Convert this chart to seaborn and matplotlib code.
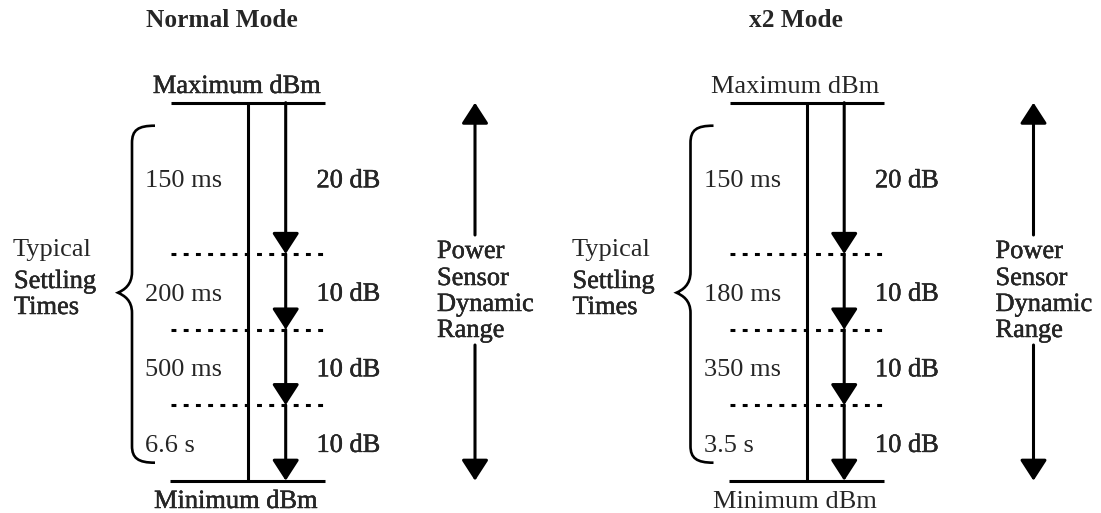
import numpy as np
import matplotlib.pyplot as plt
import matplotlib.patheffects as pe
from matplotlib.path import Path
from matplotlib.patches import PathPatch
import seaborn as sns

# dB steps from maximum down to minimum power, with typical settling time per step
steps_db = [20, 10, 10, 10]
step_labels = ["20 dB", "10 dB", "10 dB", "10 dB"]
normal_times = ["150 ms", "200 ms", "500 ms", "6.6 s"]
x2_times = ["150 ms", "180 ms", "350 ms", "3.5 s"]
mode_titles = ["Normal Mode", "x2 Mode"]

sns.set_theme(style="white")
plt.rcParams["font.family"] = ["Liberation Serif", "DejaVu Serif"]

W, H = 1101, 513
fig = plt.figure(figsize=(W / 100, H / 100), dpi=100)
ax = fig.add_axes([0, 0, 1, 1])

levels = np.concatenate([[0], -np.cumsum(steps_db)])   # 0, -20, -30, -40, -50 dB
span = -levels[-1]
top_px, bot_px = 102.7, 480.7
px_per_db = (bot_px - top_px) / span
ax.set_xlim(0, W)
ax.set_ylim(-span - (H - bot_px) / px_per_db, top_px / px_per_db)
ax.axis("off")


def yp(px):
    # layout helper: pixel row -> position on the dB axis
    return -(px - top_px) / px_per_db


FS = 19.0
heavy = [pe.withStroke(linewidth=0.3, foreground="black")]
LW = 2.2
HEAD = "-|>,head_length=0.85,head_width=0.55"


def panel(dx, title_x, title, times, heavy_minmax):
    ax.text(title_x, yp(27), title, ha="center", va="baseline",
            fontsize=18.3, fontweight="bold")
    eff = heavy if heavy_minmax else None
    ax.text(237 + dx, yp(93), "Maximum dBm", ha="center", va="baseline",
            fontsize=FS, path_effects=eff)
    ax.text(236 + dx, yp(508), "Minimum dBm", ha="center", va="baseline",
            fontsize=FS, path_effects=eff)

    # max / min lines and boundaries between steps
    ax.hlines(levels[0], 171 + dx, 325 + dx, color="black", lw=LW)
    ax.hlines(levels[-1], 170 + dx, 325 + dx, color="black", lw=LW)
    ax.hlines(levels[1:-1], 171 + dx, 325 + dx, color="black", lw=2.2,
              linestyles=(0, (1.6, 2.4)))
    ax.vlines(248.3 + dx, levels[-1], levels[0], color="black", lw=LW)

    # step arrows
    xa = 285.7 + dx
    for i in range(len(steps_db)):
        ax.annotate("", xy=(xa, levels[i + 1]), xytext=(xa, levels[i]),
                    arrowprops=dict(arrowstyle=HEAD, mutation_scale=15,
                                    color="black", lw=LW, shrinkA=0, shrinkB=0))
        mid = (levels[i] + levels[i + 1]) / 2
        ax.annotate(step_labels[i], xy=(316.5 + dx, mid), xytext=(0, -6.5),
                    textcoords="offset points", ha="left", va="baseline",
                    fontsize=FS, path_effects=heavy)
        ax.annotate(times[i], xy=(145 + dx, mid), xytext=(0, -6.5),
                    textcoords="offset points", ha="left", va="baseline",
                    fontsize=FS)

    # curly brace over the settling times
    bx = 132 + dx
    verts = [(155 + dx, 125.7), (138 + dx, 125.7), (bx, 130), (bx, 143),
             (bx, 272),
             (bx, 285), (124 + dx, 290), (118 + dx, 292.7),
             (124 + dx, 295.5), (bx, 300), (bx, 313),
             (bx, 446),
             (bx, 458), (138 + dx, 462.7), (155 + dx, 462.7)]
    codes = [Path.MOVETO, Path.CURVE4, Path.CURVE4, Path.CURVE4,
             Path.LINETO,
             Path.CURVE4, Path.CURVE4, Path.CURVE4,
             Path.CURVE4, Path.CURVE4, Path.CURVE4,
             Path.LINETO,
             Path.CURVE4, Path.CURVE4, Path.CURVE4]
    verts = [(vx, yp(vy)) for vx, vy in verts]
    ax.add_patch(PathPatch(Path(verts, codes), fill=False, lw=1.9,
                           edgecolor="black", capstyle="butt"))

    ax.text(13 + dx, yp(256), "Typical", ha="left", va="baseline", fontsize=FS)
    ax.text(14 + dx, yp(288), "Settling", ha="left", va="baseline", fontsize=FS,
            path_effects=heavy)
    ax.text(14 + dx, yp(314), "Times", ha="left", va="baseline", fontsize=FS,
            path_effects=heavy)

    # dynamic range double arrow, broken by its label
    xd = 475 + dx
    ax.annotate("", xy=(xd, levels[0]), xytext=(xd, yp(235)),
                arrowprops=dict(arrowstyle=HEAD, mutation_scale=15,
                                color="black", lw=LW, shrinkA=0, shrinkB=0))
    ax.annotate("", xy=(xd, levels[-1]), xytext=(xd, yp(345)),
                arrowprops=dict(arrowstyle=HEAD, mutation_scale=15,
                                color="black", lw=LW, shrinkA=0, shrinkB=0))
    for word, base in zip(["Power", "Sensor", "Dynamic", "Range"],
                          [258, 285, 311, 337]):
        ax.text(437 + dx, yp(base), word, ha="left", va="baseline",
                fontsize=FS, path_effects=heavy)


panel(0, 222, mode_titles[0], normal_times, True)
panel(558.5, 796, mode_titles[1], x2_times, False)

fig.savefig("out.png", dpi=100, facecolor="white")
